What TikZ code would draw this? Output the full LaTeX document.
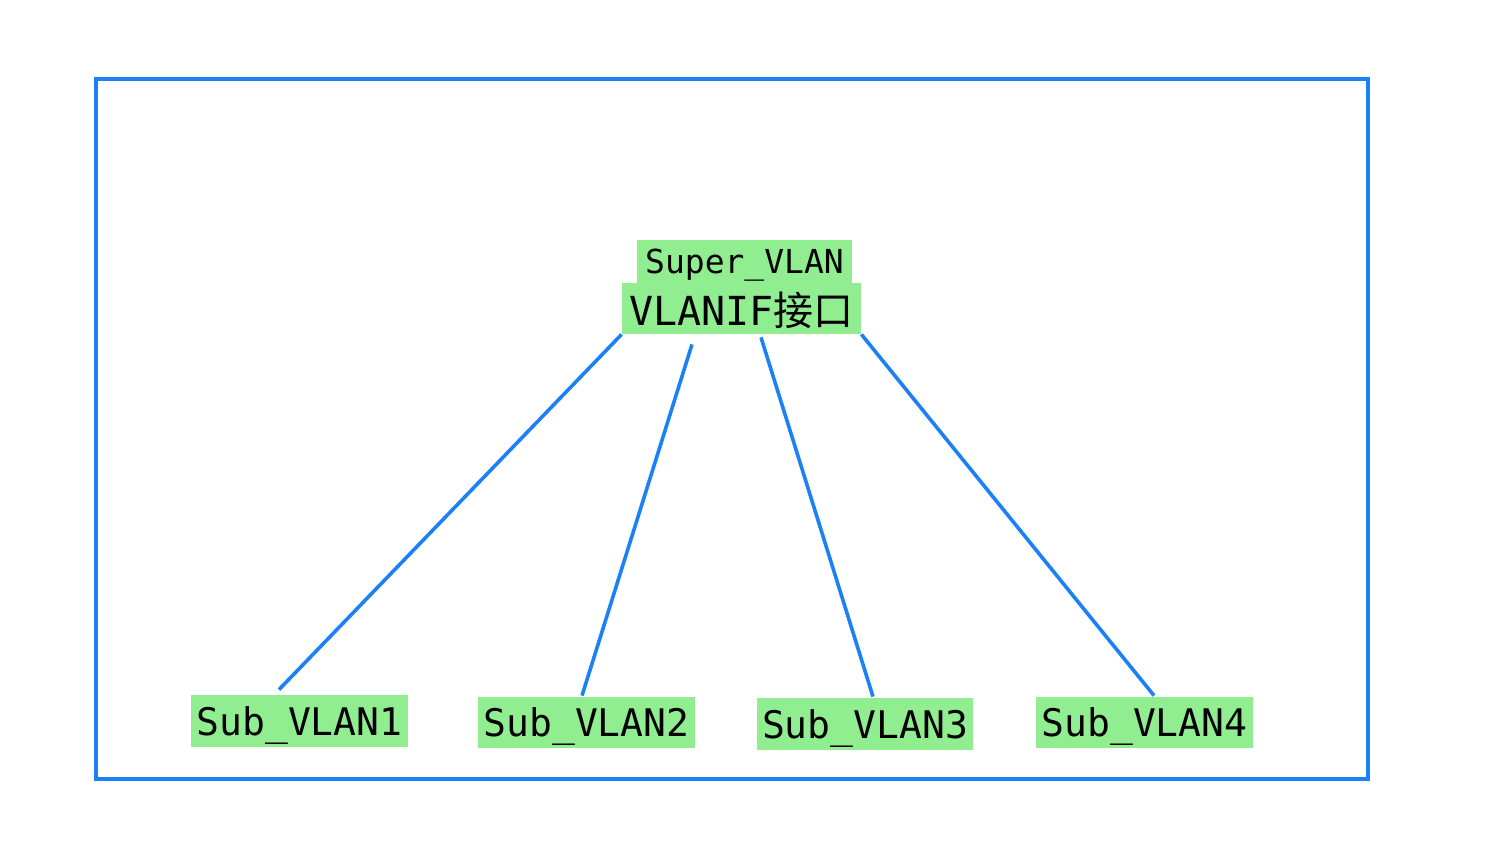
\documentclass[tikz,border=0pt]{standalone}
\usepackage{fontspec}
\setmonofont{DejaVu Sans Mono}
\newfontfamily\cjk{Noto Sans CJK SC}
\usetikzlibrary{calc}
\definecolor{frameblue}{RGB}{28,128,246}
\definecolor{boxgreen}{RGB}{144,238,144}
\tikzset{
  gbox/.style={fill=boxgreen, draw=none, inner sep=0pt, text depth=0pt, font=\ttfamily\fontsize{19}{20}\selectfont},
  link/.style={draw=frameblue, line width=1.8pt},
}
\begin{document}
\begin{tikzpicture}[x=0.5pt,y=-0.5pt]
\useasboundingbox (0,0) rectangle (1500,844);
\draw[frameblue, line width=1.8pt] (96,79) rectangle (1368,779);
\node[gbox, minimum width=215*0.5pt, minimum height=43*0.5pt, font=\ttfamily\fontsize{16.5}{18}\selectfont] (super) at (744.5,261.5) {Super\_VLAN};
\node[gbox, minimum width=239*0.5pt, minimum height=51*0.5pt, font=\ttfamily\fontsize{20}{22}\selectfont] (vlanif) at (741.5,308.5) {VLANIF{\cjk 接口}};
\node[gbox, minimum width=217*0.5pt, minimum height=52*0.5pt] (s1) at (299.5,721) {Sub\_VLAN1};
\node[gbox, minimum width=217*0.5pt, minimum height=51*0.5pt] (s2) at (586.5,722.5) {Sub\_VLAN2};
\node[gbox, minimum width=216*0.5pt, minimum height=52*0.5pt] (s3) at (865,724) {Sub\_VLAN3};
\node[gbox, minimum width=217*0.5pt, minimum height=51*0.5pt] (s4) at (1144.5,722.5) {Sub\_VLAN4};
\draw[link] (vlanif.south west) -- ($(s1.north)+(-20.5,-5)$);
\draw[link] ($(vlanif.south)+(-49.5,10)$) -- ($(s2.north)+(-4.5,-1)$);
\draw[link] ($(vlanif.south)+(19.5,3)$) -- ($(s3.north)+(8,-1)$);
\draw[link] (vlanif.south east) -- ($(s4.north)+(9.5,-1)$);
\end{tikzpicture}
\end{document}
